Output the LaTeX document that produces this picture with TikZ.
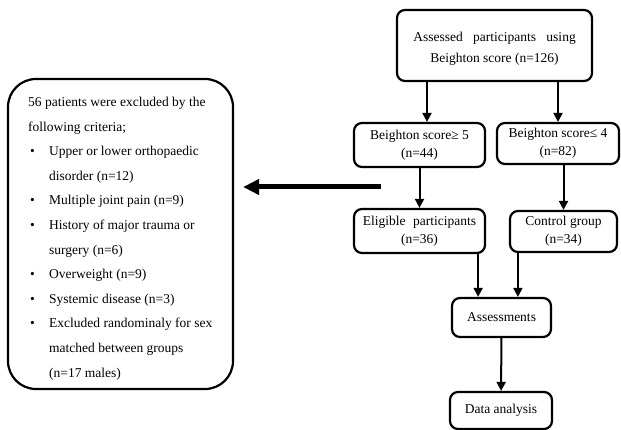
\documentclass[tikz,border=0pt]{standalone}
\usepackage{fontspec}
\setmainfont{Liberation Serif}
\usetikzlibrary{positioning,arrows.meta}
\tikzstyle{stage}=[draw,line width=2.2pt,rounded corners=8pt,align=center,inner sep=0pt,font=\fontsize{13.5}{18}\selectfont]
\tikzstyle{flow}=[line width=2pt,-{Triangle[length=9pt,width=9pt]}]
\tikzstyle{bigflow}=[line width=5pt,-{Triangle[length=16pt,width=15pt]}]
\newcommand{\itm}{\hspace*{2pt}\textbullet}

\begin{document}
\begin{tikzpicture}[x=1pt,y=-1pt]
    \useasboundingbox (0,0) rectangle (621,430);
    % main flow
    \node[stage,minimum width=195pt,minimum height=71pt,font=\fontsize{13.5}{21}\selectfont]
        (assessed) at (494.5,45.5) {\rule{0pt}{16pt}Assessed\hspace{7pt} participants\hspace{7pt} using\\Beighton score (n=126)};
    \node[stage,minimum width=131pt,minimum height=44pt] (hyper) at (419.5,145)
        {Beighton score≥ 5\\(n=44)};
    \node[stage,minimum width=122pt,minimum height=41pt] (normal) at (558,143.5)
        {Beighton score≤ 4\\(n=82)};
    \node[stage,minimum width=131pt,minimum height=44pt] (eligible) at (419.5,231)
        {Eligible\hspace{4pt} participants\\(n=36)};
    \node[stage,minimum width=107pt,minimum height=41pt] (control) at (563.5,231.5)
        {Control group\\(n=34)};
    \node[stage,minimum width=99pt,minimum height=39pt] (tests) at (501.5,317.5)
        {Assessments};
    \node[stage,minimum width=102pt,minimum height=37pt] (analysis) at (501,410.5)
        {Data analysis};
    % exclusion box
    \node[draw,line width=2.2pt,rounded corners=28pt,minimum width=225pt,minimum height=310pt]
        (excluded) at (120.5,234) {};
    \node[anchor=north west,inner sep=0pt,font=\fontsize{13.5}{24.6}\selectfont]
        (criteria) at (28,89) {%
        \begin{tabular}{@{}p{21pt}@{}l@{}}
        \multicolumn{2}{@{}l@{}}{56 patients were excluded by the}\\
        \multicolumn{2}{@{}l@{}}{following criteria;}\\
        \itm & Upper or lower orthopaedic\\
             & disorder (n=12)\\
        \itm & Multiple joint pain (n=9)\\
        \itm & History of major trauma or\\
             & surgery (n=6)\\
        \itm & Overweight (n=9)\\
        \itm & Systemic disease (n=3)\\
        \itm & Excluded randominaly for sex\\
             & matched between groups\\
             & (n=17 males)
        \end{tabular}};
    % connectors
    \draw[flow] ([xshift=7.5pt]assessed.south -| hyper.north) -- ([xshift=7.5pt]hyper.north);
    \draw[flow] (assessed.south -| normal.north) -- (normal.north);
    \draw[flow] (hyper) -- (eligible);
    \draw[flow] (normal.south -| control.north) -- (control.north);
    \draw[flow] ([xshift=-8pt]eligible.south east) -- ([xshift=-8pt]eligible.south east |- tests.north);
    \draw[flow] ([xshift=9pt]control.south west) -- ([xshift=9pt]control.south west |- tests.north);
    \draw[flow] (tests) -- (analysis);
    \coordinate (split) at (381,187);
    \draw[bigflow] (split) -- ([xshift=9pt]split -| excluded.east);
\end{tikzpicture}
\end{document}
